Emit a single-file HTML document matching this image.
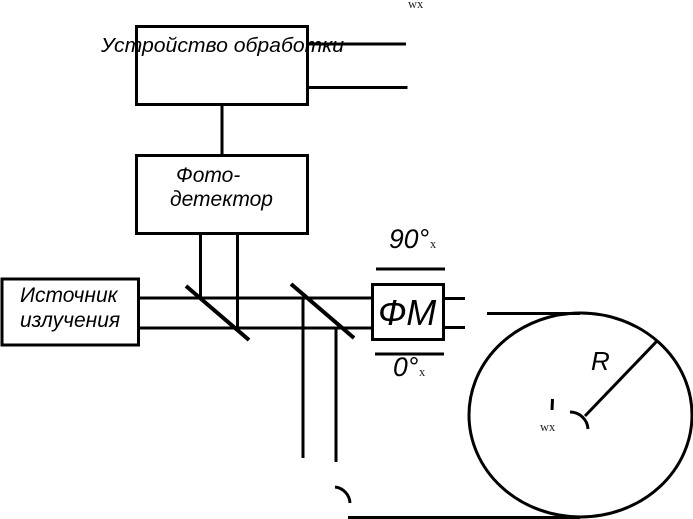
<!DOCTYPE html>
<html>
<head>
<meta charset="utf-8">
<style>
html,body{margin:0;padding:0;background:#fff;width:693px;height:519px;overflow:hidden}
svg{display:block}
text{font-family:"Liberation Sans",sans-serif;font-style:italic;fill:#000}
text.s{font-family:"Liberation Serif",serif;font-style:normal;font-size:12.500px;fill:#222}
</style>
</head>
<body>
<svg width="693" height="519" viewBox="0 0 693 519" xmlns="http://www.w3.org/2000/svg">
<g fill="none" stroke="#000" stroke-width="3">
  <rect x="136.500" y="26.500" width="171" height="78"/>
  <rect x="136.500" y="155.500" width="171" height="78"/>
  <rect x="2" y="279" width="136.500" height="66"/>
  <rect x="372.500" y="284.500" width="71" height="55"/>
  <path d="M308 44H406M308 87.500H407.500"/>
  <path d="M222 105V155"/>
  <path d="M200.500 234V298M237.500 234V328"/>
  <path d="M139 298H372M139 328H372"/>
  <path d="M303 298V458M336 328V462"/>
  <path d="M444 298.500H465M444 327.500H465"/>
  <path d="M376 269H445M375 354H444"/>
  <path d="M487 313.500H580M348 517.500H580"/>
  <ellipse cx="580.500" cy="415" rx="111.500" ry="102"/>
  <path d="M585 416L657 341"/>
  <path d="M570 412A18 18 0 0 1 588 429"/>
  <path d="M335 487A17 17 0 0 1 350 503"/>
  <path d="M552.500 399L552 410"/>
  <path d="M186 286L249 340M291 284L354 338" stroke-width="4"/>
</g>
<text x="101" y="52" font-size="20.500" textLength="243" lengthAdjust="spacingAndGlyphs">Устройство обработки</text>
<text x="176" y="182" font-size="21">Фото-</text>
<text x="170" y="206" font-size="21">детектор</text>
<text x="20" y="302" font-size="21">Источник</text>
<text x="20" y="327" font-size="21">излучения</text>
<text x="378" y="325" font-size="36">ФМ</text>
<text x="389" y="248" font-size="26.500">90°</text>
<text x="393" y="376" font-size="26.500">0°</text>
<text x="591" y="370" font-size="26">R</text>
<text class="s" x="408" y="8">wx</text>
<text class="s" x="430" y="248">x</text>
<text class="s" x="419" y="376">x</text>
<text class="s" x="540" y="431">wx</text>
</svg>
</body>
</html>
